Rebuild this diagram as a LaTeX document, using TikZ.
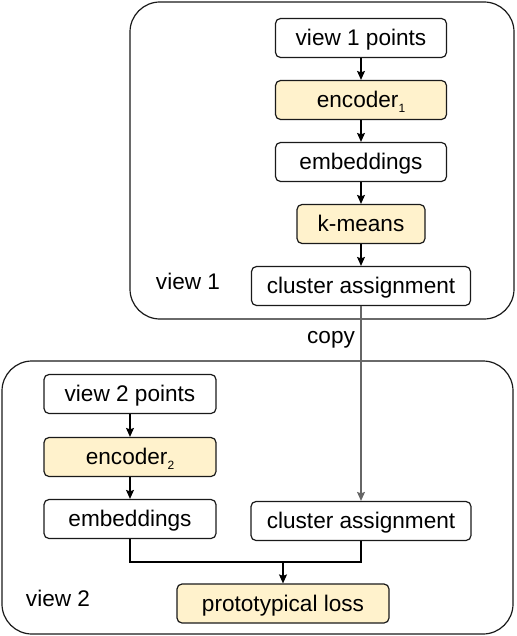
\documentclass[tikz,border=0pt]{standalone}
\usepackage{fontspec}
\setmainfont{Liberation Sans}
\usetikzlibrary{arrows.meta}
\definecolor{boxfill}{HTML}{FFF2CC}
\definecolor{lineclr}{HTML}{1A1A1A}
\newcommand{\subn}[1]{\raisebox{-5pt}{\fontsize{12}{12}\selectfont #1}}
\begin{document}
\begin{tikzpicture}[x=1pt,y=-1pt, font=\fontsize{22.6}{26}\selectfont,
  bx/.style={draw=lineclr, line width=1.2pt, rounded corners=5pt, minimum height=39pt, inner sep=0pt, text height=20pt, text depth=5pt},
  yel/.style={bx, fill=boxfill},
  outer/.style={draw=lineclr, line width=1.2pt, rounded corners=30pt},
  arr/.style={-{Stealth[length=9pt,width=8pt,inset=1.5pt]}, line width=1.3pt, draw=black},
  copyarr/.style={-{Stealth[length=9pt,width=8pt,inset=1.5pt]}, line width=1.2pt, draw=black!60},
  lbl/.style={inner sep=0pt}]
\useasboundingbox (0,0) rectangle (516,636);
\draw[outer] (130,2) rectangle (514,319);
\draw[outer] (2,361) rectangle (513,634);
% view 1
\node[bx, minimum width=171pt] (v1p) at (361,38) {view 1 points};
\node[yel, minimum width=171pt] (enc1) at (361,100) {encoder\subn{1}};
\node[bx, minimum width=171pt] (emb1) at (361,162) {embeddings};
\node[yel, minimum width=128pt] (km) at (361,224) {k-means};
\node[bx, minimum width=219pt] (ca1) at (361,286) {cluster assignment};
\node[lbl] (lv1) at (188,281) {view 1};
% view 2
\node[bx, minimum width=172pt] (v2p) at (130,394) {view 2 points};
\node[yel, minimum width=172pt] (enc2) at (130,457) {encoder\subn{2}};
\node[bx, minimum width=172pt] (emb2) at (130,519) {embeddings};
\node[bx, minimum width=220pt] (ca2) at (361,521) {cluster assignment};
\node[yel, minimum width=212pt] (pl) at (283,603.5) {prototypical loss};
\node[lbl] (lv2) at (58,598) {view 2};
\node[lbl] (cp) at (331,340) {copy};
% arrows
\draw[arr] (v1p) -- (enc1);
\draw[arr] (enc1) -- (emb1);
\draw[arr] (emb1) -- (km);
\draw[arr] (km) -- (ca1);
\draw[copyarr] (ca1.south) -- (ca2.north);
\draw[arr] (v2p) -- (enc2);
\draw[arr] (enc2) -- (emb2);
\coordinate (m) at (283,562);
\draw[line width=1.2pt, draw=black] (emb2.south) |- (m) -| (ca2.south);
\draw[arr] (m) -- (pl.north);
\end{tikzpicture}
\end{document}
